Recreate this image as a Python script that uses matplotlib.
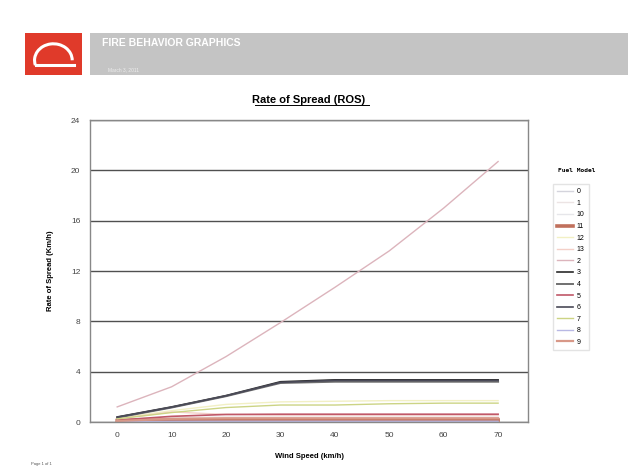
import matplotlib.pyplot as plt
from matplotlib.patches import Rectangle, Arc
from matplotlib.lines import Line2D

plt.rcParams['font.family'] = ['Liberation Sans', 'DejaVu Sans']

# wind speed (km/h)
wind = [0, 10, 20, 30, 40, 50, 60, 70]

# rate of spread (km/h) per fuel model
fuel_models = ['0', '1', '10', '11', '12', '13', '2', '3', '4', '5', '6', '7', '8', '9']
ros = {
    '0':  [0.0, 0.0, 0.0, 0.0, 0.0, 0.0, 0.0, 0.0],
    '1':  [0.2, 0.35, 0.4, 0.4, 0.4, 0.4, 0.4, 0.4],
    '10': [0.1, 0.2, 0.25, 0.25, 0.25, 0.25, 0.25, 0.25],
    '11': [0.12, 0.15, 0.16, 0.16, 0.16, 0.16, 0.16, 0.16],
    '12': [0.3, 0.9, 1.4, 1.6, 1.65, 1.7, 1.7, 1.7],
    '13': [0.25, 0.8, 0.6, 0.55, 0.55, 0.55, 0.55, 0.55],
    '2':  [1.2, 2.8, 5.2, 7.9, 10.7, 13.6, 17.0, 20.7],
    '3':  [0.4, 1.2, 2.1, 3.2, 3.35, 3.35, 3.35, 3.35],
    '4':  [0.35, 1.15, 2.05, 3.1, 3.2, 3.2, 3.2, 3.2],
    '5':  [0.15, 0.45, 0.6, 0.62, 0.62, 0.62, 0.62, 0.62],
    '6':  [0.38, 1.18, 2.08, 3.15, 3.3, 3.3, 3.3, 3.3],
    '7':  [0.25, 0.75, 1.15, 1.35, 1.35, 1.45, 1.5, 1.5],
    '8':  [0.02, 0.05, 0.06, 0.06, 0.06, 0.06, 0.06, 0.06],
    '9':  [0.08, 0.25, 0.3, 0.3, 0.3, 0.3, 0.3, 0.3],
}
colors = {
    '0': '#d4d4dc', '1': '#ece4e4', '10': '#e6e6ea', '11': '#c0705c',
    '12': '#f2f0c4', '13': '#f4d0c8', '2': '#dcb4bc', '3': '#2a2a2a',
    '4': '#707070', '5': '#c05868', '6': '#4a4a58', '7': '#ccd484',
    '8': '#b8b8e4', '9': '#d89888',
}
widths = {'3': 1.2, '4': 1.4, '6': 1.2, '11': 2.6, '9': 1.6, '5': 1.2}

fig = plt.figure(figsize=(6.28, 4.71), dpi=100)

# header
fig.patches.append(Rectangle((0.1433, 0.8408), 0.857, 0.0891, transform=fig.transFigure,
                             facecolor='#c4c4c4', edgecolor='none'))
fig.patches.append(Rectangle((0.0398, 0.8408), 0.0908, 0.0891, transform=fig.transFigure,
                             facecolor='#e03a2a', edgecolor='none'))
fig.patches.append(Arc((0.085, 0.872), 0.06, 0.07, theta1=0, theta2=200,
                       transform=fig.transFigure, color='white', lw=2.2))
fig.lines.append(Line2D([0.058, 0.118], [0.862, 0.862], transform=fig.transFigure,
                        color='white', lw=2.2))
fig.text(0.163, 0.908, 'FIRE BEHAVIOR GRAPHICS', color='white', fontsize=7.5,
         fontweight='bold', va='center')
fig.text(0.172, 0.852, 'March 3, 2011', color='#eeeeee', fontsize=3.5, va='center')

ax = fig.add_axes([0.1433, 0.1040, 0.6975, 0.6412])
for fm in fuel_models:
    ax.plot(wind, ros[fm], color=colors[fm], lw=widths.get(fm, 1.0), label=fm)

ax.set_xlim(-5, 75.5)
ax.set_ylim(0, 24)
ax.set_xticks(wind)
ax.set_yticks(range(0, 25, 4))
ax.tick_params(labelsize=6, length=0, pad=7, colors='#444444')
ax.grid(axis='y', color='#505050', lw=1.0)
ax.set_axisbelow(True)
for s in ax.spines.values():
    s.set_color('#888888')
    s.set_linewidth(1.0)

ax.set_title('Rate of Spread (ROS)', fontsize=8, fontweight='bold', pad=12)
fig.lines.append(Line2D([0.406, 0.587], [0.777, 0.777], transform=fig.transFigure,
                        color='black', lw=0.7))
ax.set_xlabel('Wind Speed (km/h)', fontsize=5.5, fontweight='bold', labelpad=10)
ax.set_ylabel('Rate of Spread (Km/h)', fontsize=5.5, fontweight='bold', labelpad=12)

fig.text(0.918, 0.634, 'Fuel Model', fontsize=4.5, fontweight='bold',
         family='DejaVu Sans Mono', ha='center')
fig.legend(loc='upper left', bbox_to_anchor=(0.880, 0.609), fontsize=5,
           handlelength=2.4, handletextpad=0.5, labelspacing=0.66,
           frameon=True, fancybox=False, edgecolor='#dddddd', borderpad=0.6,
           borderaxespad=0)

fig.text(0.05, 0.012, 'Page 1 of 1', fontsize=3, color='#555555')

fig.savefig('out.png', dpi=100)
